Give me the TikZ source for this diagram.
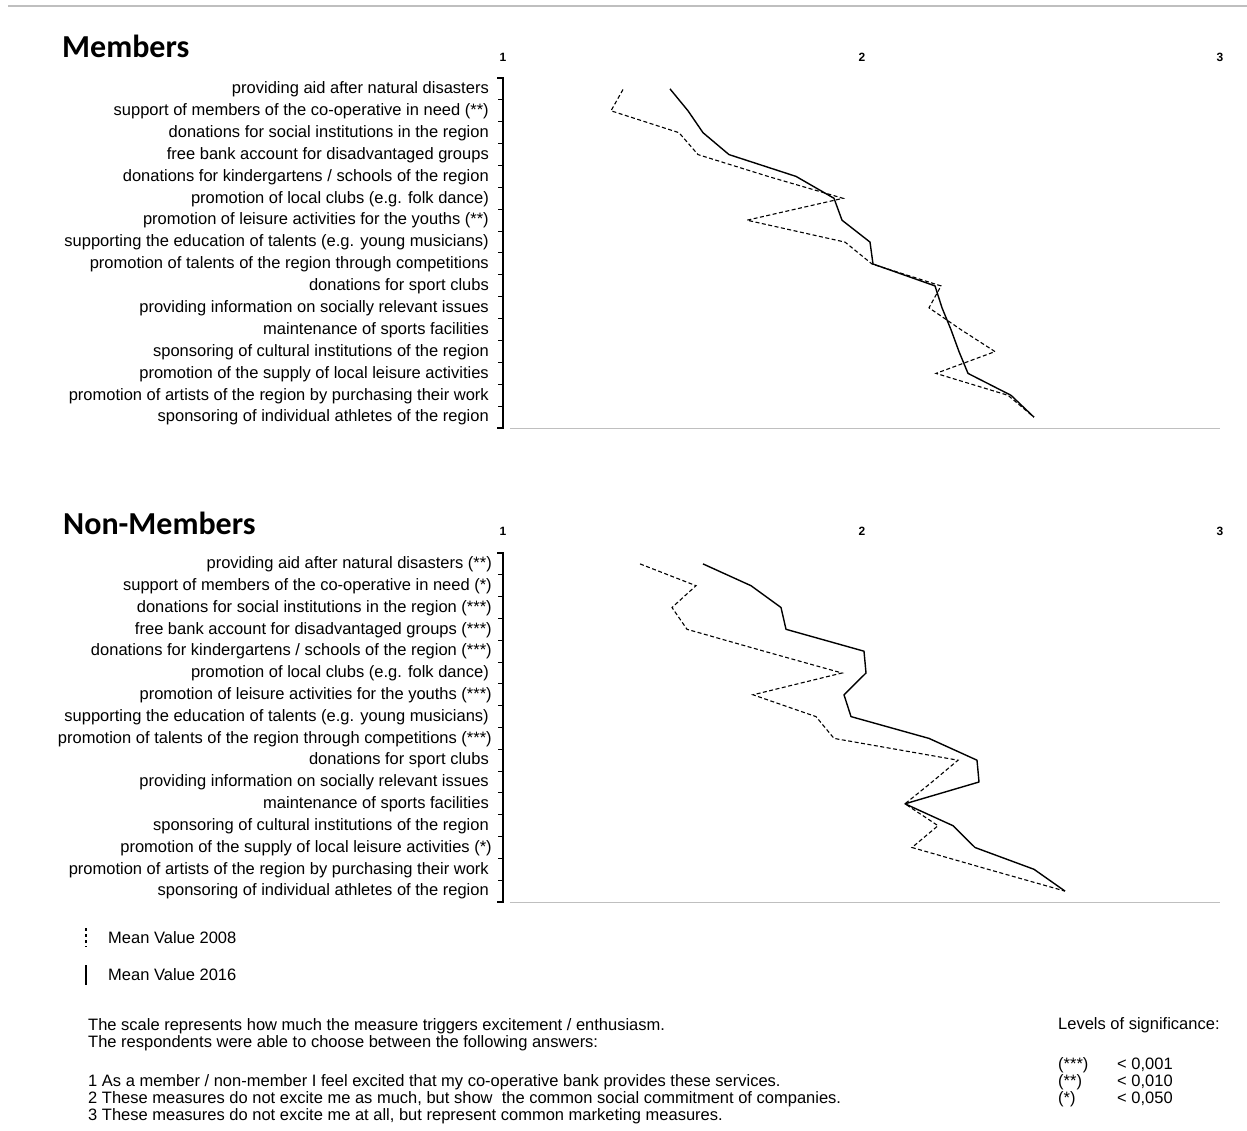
\documentclass[tikz,border=0pt]{standalone}
\usepackage{fontspec}
\setmainfont{Liberation Sans}
\newfontfamily\titlefont{Carlito}

\tikzset{
  itemlabel/.style={anchor=east, inner sep=0pt, font=\fontsize{16.5}{18}\selectfont},
  scalenum/.style={inner sep=0pt, font=\fontsize{12}{14}\selectfont\bfseries},
  charttitle/.style={anchor=base west, inner sep=0pt, font=\fontsize{32}{36}\selectfont\titlefont\bfseries},
  notetext/.style={anchor=west, inner sep=0pt, font=\fontsize{16.5}{17}\selectfont},
  bracketline/.style={black, line width=1.4pt},
  baseline/.style={black!25, line width=1pt},
  mean2016/.style={black, line width=1.4pt, line join=round},
  mean2008/.style={black, line width=1.1pt, dash pattern=on 4pt off 2.5pt}
}

\begin{document}
\begin{tikzpicture}[x=1pt, y=-1pt]
    \useasboundingbox (0,0) rectangle (1247,1131);
    \draw[black!25, line width=2pt] (8,6) -- (1247,6);

    % Members
    \node[charttitle] (ttop) at (62,58) {Members};
    \node[scalenum] (top1) at (503,57) {1};
    \node[scalenum] (top2) at (862,57) {2};
    \node[scalenum] (top3) at (1220,57) {3};

    \node[itemlabel] (m1) at (489,89.4) {providing aid after natural disasters};
    \node[itemlabel] (m2) at (489,111.3) {support of members of the co-operative in need (**)};
    \node[itemlabel] (m3) at (489,133.2) {donations for social institutions in the region};
    \node[itemlabel] (m4) at (489,155.1) {free bank account for disadvantaged groups};
    \node[itemlabel] (m5) at (489,176.9) {donations for kindergartens / schools of the region};
    \node[itemlabel] (m6) at (489,198.8) {promotion of local clubs (e.g. folk dance)};
    \node[itemlabel] (m7) at (489,220.7) {promotion of leisure activities for the youths (**)};
    \node[itemlabel] (m8) at (489,242.6) {supporting the education of talents (e.g. young musicians)};
    \node[itemlabel] (m9) at (489,264.5) {promotion of talents of the region through competitions};
    \node[itemlabel] (m10) at (489,286.4) {donations for sport clubs};
    \node[itemlabel] (m11) at (489,308.3) {providing information on socially relevant issues};
    \node[itemlabel] (m12) at (489,330.2) {maintenance of sports facilities};
    \node[itemlabel] (m13) at (489,352.1) {sponsoring of cultural institutions of the region};
    \node[itemlabel] (m14) at (489,373.9) {promotion of the supply of local leisure activities};
    \node[itemlabel] (m15) at (489,395.8) {promotion of artists of the region by purchasing their work};
    \node[itemlabel] (m16) at (489,417.7) {sponsoring of individual athletes of the region};

    \draw[bracketline] (497,78) -- (503,78) -- (503,428) -- (497,428);
    \foreach \k in {1,...,15}
        \draw[black, line width=1pt] ({498},{78+21.875*\k}) -- ({503},{78+21.875*\k});
    \draw[baseline] (510,428) -- (1220,428);

    \draw[mean2008] (623,89.5) -- (611,110.8) -- (679,132.7) -- (698,154.6) -- (768,176.4)
        -- (843,198.3) -- (747,220.2) -- (845,242.1) -- (872,264.0) -- (941,285.9)
        -- (929,307.8) -- (961,329.7) -- (995,351.6) -- (936,373.4) -- (1008,395.3) -- (1034,417.2);
    \draw[mean2016] (670,88.9) -- (688,110.8) -- (703,132.7) -- (729,154.6) -- (796,176.4)
        -- (834,198.3) -- (842,220.2) -- (870,242.1) -- (873,264.0) -- (935,285.9)
        -- (942,307.8) -- (951,329.7) -- (959,351.6) -- (968,373.4) -- (1011,395.3) -- (1034,417.2);

    % Non-Members
    \node[charttitle] (tbot) at (63,534) {Non-Members};
    \node[scalenum] (bot1) at (503,531) {1};
    \node[scalenum] (bot2) at (862,531) {2};
    \node[scalenum] (bot3) at (1220,531) {3};

    \node[itemlabel] (n1) at (492,564.4) {providing aid after natural disasters (**)};
    \node[itemlabel] (n2) at (492,586.2) {support of members of the co-operative in need (*)};
    \node[itemlabel] (n3) at (492,608.0) {donations for social institutions in the region (***)};
    \node[itemlabel] (n4) at (492,629.8) {free bank account for disadvantaged groups (***)};
    \node[itemlabel] (n5) at (492,651.7) {donations for kindergartens / schools of the region (***)};
    \node[itemlabel] (n6) at (489,673.5) {promotion of local clubs (e.g. folk dance)};
    \node[itemlabel] (n7) at (492,695.3) {promotion of leisure activities for the youths (***)};
    \node[itemlabel] (n8) at (489,717.1) {supporting the education of talents (e.g. young musicians)};
    \node[itemlabel] (n9) at (492,738.9) {promotion of talents of the region through competitions (***)};
    \node[itemlabel] (n10) at (489,760.7) {donations for sport clubs};
    \node[itemlabel] (n11) at (489,782.5) {providing information on socially relevant issues};
    \node[itemlabel] (n12) at (489,804.3) {maintenance of sports facilities};
    \node[itemlabel] (n13) at (489,826.2) {sponsoring of cultural institutions of the region};
    \node[itemlabel] (n14) at (492,848.0) {promotion of the supply of local leisure activities (*)};
    \node[itemlabel] (n15) at (489,869.8) {promotion of artists of the region by purchasing their work};
    \node[itemlabel] (n16) at (489,891.6) {sponsoring of individual athletes of the region};

    \draw[bracketline] (497,553) -- (503,553) -- (503,902) -- (497,902);
    \foreach \k in {1,...,15}
        \draw[black, line width=1pt] ({498},{553+21.8125*\k}) -- ({503},{553+21.8125*\k});
    \draw[baseline] (510,902) -- (1220,902);

    \draw[mean2008] (640,563.9) -- (696,585.7) -- (672,607.5) -- (687,629.3) -- (764,651.2)
        -- (842,673.0) -- (753,694.8) -- (816,716.6) -- (834,738.4) -- (958,760.2)
        -- (932,782.0) -- (905,803.8) -- (938,825.7) -- (912,847.5) -- (988,869.3) -- (1065,891.1);
    \draw[mean2016] (703,563.9) -- (751,585.7) -- (781,607.5) -- (786,629.3) -- (864,651.2)
        -- (866,673.0) -- (844,694.8) -- (851,716.6) -- (929,738.4) -- (977,760.2)
        -- (979,782.0) -- (905,803.8) -- (953,825.7) -- (975,847.5) -- (1034,869.3) -- (1065,891.1);

    % legend
    \coordinate (l8a) at (86,928);
    \coordinate (l8b) at (86,947);
    \coordinate (l6a) at (86,965);
    \coordinate (l6b) at (86,985);
    \draw[black, line width=1.3pt, dash pattern=on 3pt off 3pt] (l8a) -- (l8b);
    \draw[black, line width=1.3pt] (l6a) -- (l6b);
    \node[notetext] (leg8) at (108,938) {Mean Value 2008};
    \node[notetext] (leg6) at (108,975) {Mean Value 2016};

    % notes
    \node[notetext] (note1) at (88,1026) {The scale represents how much the measure triggers excitement / enthusiasm.};
    \node[notetext] (note2) at (88,1043) {The respondents were able to choose between the following answers:};
    \node[notetext] (ans1) at (88,1082) {1 As a member / non-member I feel excited that my co-operative bank provides these services.};
    \node[notetext] (ans2) at (88,1099) {2 These measures do not excite me as much, but show\ \ the common social commitment of companies.};
    \node[notetext] (ans3) at (88,1116) {3 These measures do not excite me at all, but represent common marketing measures.};

    \node[notetext] (sigt) at (1058,1025) {Levels of significance:};
    \node[notetext] (sig3) at (1058,1065) {(***)};
    \node[notetext] (sig2) at (1058,1082) {(**)};
    \node[notetext] (sig1) at (1058,1099) {(*)};
    \node[notetext] (sigv3) at (1117,1065) {< 0,001};
    \node[notetext] (sigv2) at (1117,1082) {< 0,010};
    \node[notetext] (sigv1) at (1117,1099) {< 0,050};
\end{tikzpicture}
\end{document}
